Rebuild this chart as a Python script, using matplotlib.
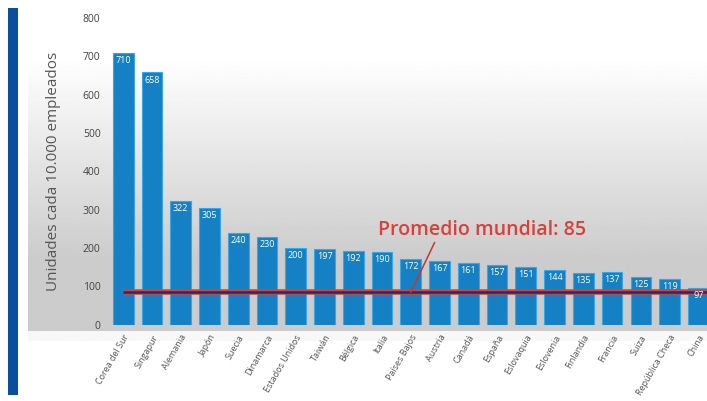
import numpy as np
import matplotlib.pyplot as plt

# Robot density per country
paises = ['Corea del Sur', 'Singapur', 'Alemania', 'Japón', 'Suecia', 'Dinamarca',
          'Estados Unidos', 'Taiwán', 'Bélgica', 'Italia', 'Países Bajos', 'Austria',
          'Canadá', 'España', 'Eslovaquia', 'Eslovenia', 'Finlandia', 'Francia',
          'Suiza', 'República Checa', 'China']
valores = [710, 658, 322, 305, 240, 230, 200, 197, 192, 190, 172, 167,
           161, 157, 151, 144, 135, 137, 125, 119, 97]
promedio = 85
yticks = [0, 100, 200, 300, 400, 500, 600, 700, 800]

plt.rcParams['font.family'] = ['Open Sans', 'DejaVu Sans']

fig = plt.figure(figsize=(7.07, 4.01), dpi=100)

# background gradient panel
bg = fig.add_axes([0.04, 0.15, 0.96, 0.83])
grad = np.ones((300, 1))
ys = np.linspace(1, 0, 300)  # 1 = top
for i, y in enumerate(ys):
    if y > 0.85:
        v = 1.0
    elif y > 0.25:
        v = 1.0 - 0.2 * (0.85 - y) / 0.6
    elif y > 0.03:
        v = 0.8
    else:
        v = 0.97
    grad[i, 0] = v
bg.imshow(grad, aspect='auto', cmap='gray', vmin=0, vmax=1, extent=[0, 1, 0, 1])
bg.axis('off')

# left blue strip
strip = fig.add_axes([0.011, 0.015, 0.014, 0.965])
strip.set_facecolor('#0a4f9c')
strip.set_xticks([])
strip.set_yticks([])
for s in strip.spines.values():
    s.set_visible(False)

ax = fig.add_axes([0.158, 0.19, 0.842, 0.765])
ax.patch.set_alpha(0)
x = np.arange(len(paises))
ax.bar(x, valores, width=0.72, color='#1580c4', edgecolor='#3aa6e6', linewidth=0.8, zorder=2)

for xi, v in zip(x, valores):
    ax.text(xi, v - 8, str(v), ha='center', va='top', color='white', fontsize=6.5, zorder=4)

ax.plot([0, 20.4], [promedio, promedio], color='#d8403a', linewidth=4, zorder=3,
        solid_capstyle='butt')
ax.plot([0, 20.4], [promedio, promedio], color='#1d2f6e', linewidth=1.8, zorder=3,
        solid_capstyle='butt')

ax.annotate('Promedio mundial: 85', xy=(10, promedio), xytext=(8.85, 222),
            color='#d8403a', fontsize=14, fontweight='semibold', ha='left', va='bottom',
            arrowprops=dict(arrowstyle='-', color='#c0392b', lw=1.1,
                            shrinkA=0, shrinkB=0, relpos=(0.28, 0)),
            zorder=5)

ax.set_xlim(-0.4, 20.3)
ax.set_ylim(0, 800)
ax.set_yticks(yticks)
ax.set_yticklabels([str(t) for t in yticks], fontsize=7.5, color='#444444')
ax.set_xticks(x)
ax.set_xticklabels(paises, rotation=60, ha='right', rotation_mode='anchor',
                   fontsize=6.5, color='#555555')
ax.tick_params(length=0, pad=8)
ax.tick_params(axis='x', pad=6)
for s in ax.spines.values():
    s.set_visible(False)
ax.set_ylabel('Unidades cada 10.000 empleados', fontsize=11, color='#555555', labelpad=16)

fig.savefig('out.png', dpi=100)
